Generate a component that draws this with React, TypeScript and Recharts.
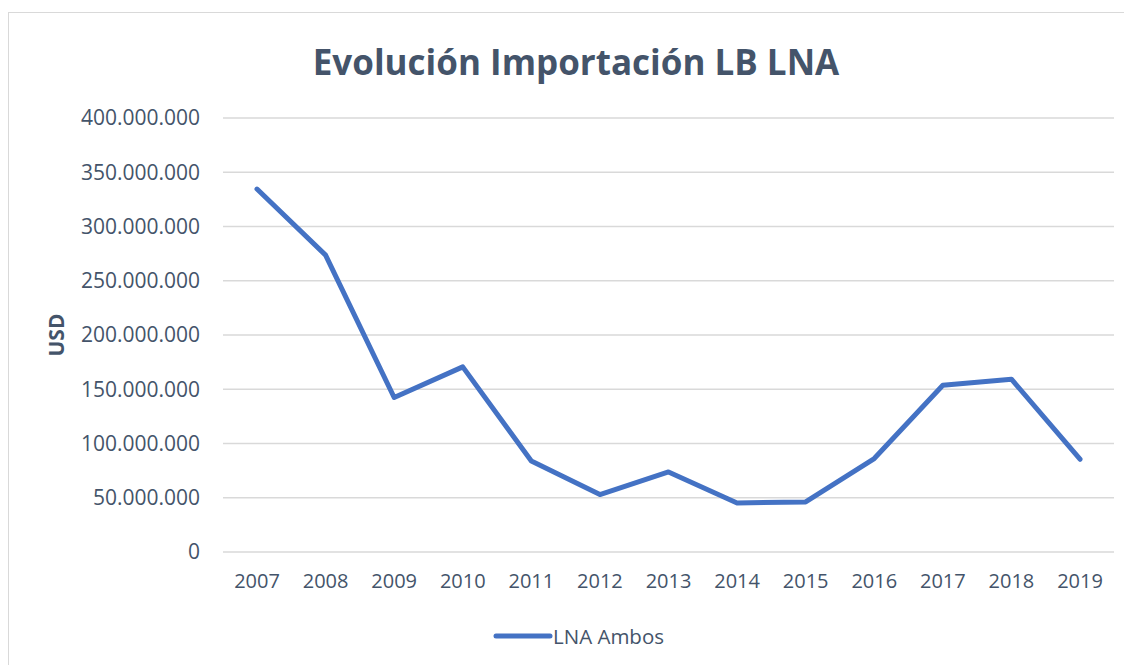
import React from 'react';
import { LineChart, Line, XAxis, YAxis, CartesianGrid, Legend } from 'recharts';

const years = ['2007','2008','2009','2010','2011','2012','2013','2014','2015','2016','2017','2018','2019'];
const lnaAmbos = [334500000, 273600000, 142400000, 170600000, 83900000, 52900000, 73800000, 45200000, 46100000, 86100000, 153700000, 159300000, 85500000];
const yTicks = [0, 50000000, 100000000, 150000000, 200000000, 250000000, 300000000, 350000000, 400000000];

const data = years.map((y, i) => ({ year: y, value: lnaAmbos[i] }));

const fmt = (v: number) => {
  const s = Math.round(v).toString();
  return s.replace(/\B(?=(\d{3})+(?!\d))/g, '.');
};

const TEXT = '#44546A';
const FONT = '"Open Sans", sans-serif';

const LegendContent = () => (
  <div style={{ height: 30, position: 'relative', width: 1123 }}>
    <div style={{ position: 'absolute', left: 484, top: 0, height: 30, display: 'flex', alignItems: 'center' }}>
      <svg width={60} height={10} style={{ display: 'block' }}>
        <line x1={3} y1={5} x2={57} y2={5} stroke="#4472C4" strokeWidth={5} strokeLinecap="round" />
      </svg>
      <span style={{ fontFamily: FONT, fontSize: 20.5, color: TEXT, marginLeft: 0 }}>LNA Ambos</span>
    </div>
  </div>
);

export default function App() {
  return (
    <div style={{ marginTop: 4, width: 1123, height: 652, borderTop: '1px solid #D9D9D9', borderLeft: '1px solid #D9D9D9', position: 'relative', background: '#fff' }}>
      <div style={{ position: 'absolute', left: 0, width: 1134, top: 25, textAlign: 'center', fontFamily: FONT, fontWeight: 700, fontSize: 35, color: TEXT, lineHeight: '48px' }}>
        Evolución Importación LB LNA
      </div>
      <LineChart width={1123} height={652} data={data} margin={{ top: 105, right: 18, left: 20, bottom: 14 }}>
        <CartesianGrid vertical={false} stroke="#D9D9D9" strokeWidth={1.5} />
        <XAxis
          dataKey="year"
          axisLine={false}
          tickLine={false}
          tickSize={0}
          tickMargin={22}
          height={69}
          padding={{ left: 34, right: 34 }}
          tick={{ fill: TEXT, fontFamily: FONT, fontSize: 20 }}
          interval={0}
        />
        <YAxis
          width={194}
          domain={[0, 400000000]}
          ticks={yTicks}
          tickFormatter={fmt}
          axisLine={false}
          tickLine={false}
          tickSize={0}
          tickMargin={23}
          tick={{ fill: TEXT, fontFamily: FONT, fontSize: 21 }}
          label={{ value: 'USD', angle: -90, position: 'insideLeft', offset: 28, style: { fill: TEXT, fontFamily: FONT, fontSize: 21, fontWeight: 700, textAnchor: 'middle' } }}
        />
        <Legend verticalAlign="bottom" content={<LegendContent />} wrapperStyle={{ left: 0, width: 1123 }} />
        <Line
          type="linear"
          dataKey="value"
          name="LNA Ambos"
          stroke="#4472C4"
          strokeWidth={5}
          strokeLinecap="round"
          strokeLinejoin="round"
          dot={false}
          isAnimationActive={false}
        />
      </LineChart>
    </div>
  );
}
